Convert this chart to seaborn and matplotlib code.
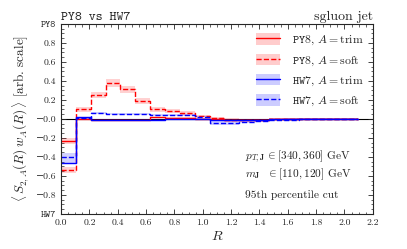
import numpy as np
import pandas as pd
import matplotlib
matplotlib.use("Agg")
import matplotlib.pyplot as plt
import seaborn as sns
from matplotlib.patches import Patch
from matplotlib.lines import Line2D

# bin edges: 20 bins of width 2.2/21
bin_width = 2.2 / 21
n_bins = 20

py8_trim = [-0.23, 0.00, -0.01, -0.01, -0.01, -0.01, 0.015, 0.01, 0.01, 0.00,
            -0.005, -0.01, -0.01, -0.01, 0.0, 0.0, 0.0, 0.0, 0.0, 0.0]
py8_trim_err = [0.03, 0.015, 0.01, 0.01, 0.01, 0.01, 0.01, 0.01, 0.01, 0.01,
                0.01, 0.01, 0.01, 0.01, 0.01, 0.005, 0.005, 0.005, 0.005, 0.005]
py8_soft = [-0.54, 0.10, 0.25, 0.38, 0.31, 0.19, 0.10, 0.08, 0.06, 0.03,
            0.01, -0.01, -0.01, -0.01, 0.0, 0.0, 0.0, 0.0, 0.0, 0.0]
py8_soft_err = [0.03, 0.03, 0.03, 0.045, 0.035, 0.03, 0.03, 0.02, 0.02, 0.015,
                0.015, 0.015, 0.01, 0.01, 0.01, 0.005, 0.005, 0.005, 0.005, 0.005]
hw7_trim = [-0.46, 0.015, -0.01, -0.01, -0.01, -0.01, -0.01, 0.0, 0.0, 0.0,
            -0.01, -0.01, -0.01, -0.01, -0.005, 0.0, 0.0, 0.0, 0.0, 0.0]
hw7_trim_err = [0.02, 0.01, 0.008, 0.008, 0.008, 0.008, 0.008, 0.008, 0.008, 0.008,
                0.008, 0.008, 0.008, 0.008, 0.005, 0.005, 0.005, 0.005, 0.005, 0.005]
hw7_soft = [-0.40, 0.01, 0.065, 0.05, 0.05, 0.05, 0.045, 0.045, 0.04, 0.025,
            -0.045, -0.04, -0.03, -0.02, -0.01, -0.01, 0.0, 0.0, 0.0, 0.0]
hw7_soft_err = [0.04, 0.01, 0.01, 0.01, 0.01, 0.01, 0.01, 0.01, 0.01, 0.01,
                0.02, 0.02, 0.015, 0.01, 0.01, 0.01, 0.005, 0.005, 0.005, 0.005]

series = [
    ("PY8", "trim", py8_trim, py8_trim_err, "#ff0000", "-"),
    ("PY8", "soft", py8_soft, py8_soft_err, "#ff0000", "--"),
    ("HW7", "trim", hw7_trim, hw7_trim_err, "#0000ff", "-"),
    ("HW7", "soft", hw7_soft, hw7_soft_err, "#0000ff", "--"),
]

sns.set_style("ticks")
plt.rcParams["font.family"] = ["cmr10", "DejaVu Serif"]
plt.rcParams["mathtext.fontset"] = "cm"
plt.rcParams["axes.formatter.use_mathtext"] = True
plt.rcParams["axes.unicode_minus"] = True

fig = plt.figure(figsize=(4.07, 2.49), dpi=100)
ax = fig.add_axes([0.150, 0.141, 0.766, 0.763])

edges = np.arange(n_bins + 1) * bin_width
handles = []
labels = []
for gen, alg, vals, errs, col, ls in series:
    v = np.append(vals, vals[-1])
    e = np.append(errs, errs[-1])
    df = pd.DataFrame({"R": edges, "val": v})
    ax.fill_between(edges, v - e, v + e, step="post", color=col, alpha=0.18, lw=0)
    sns.lineplot(data=df, x="R", y="val", ax=ax, color=col, linestyle=ls,
                 drawstyle="steps-post", lw=1.0, legend=False)
    handles.append((Patch(facecolor=col, alpha=0.2, lw=0),
                    Line2D([], [], color=col, ls=ls, lw=1.0)))
    labels.append(r"$\mathtt{%s}$, $A = \mathrm{%s}$" % (gen, alg))

ax.axhline(0, color="black", lw=0.8, zorder=0)

ax.set_xlim(0, 2.2)
ax.set_ylim(-1.0, 1.0)
ax.set_xticks(np.arange(0, 2.21, 0.2))
ax.set_xticklabels(["%.1f" % t for t in np.arange(0, 2.21, 0.2)])
yt = np.round(np.arange(-1.0, 1.01, 0.2), 1)
ax.set_yticks(yt)
ylabs = []
for t in yt:
    if t == 1.0:
        ylabs.append("PY8")
    elif t == -1.0:
        ylabs.append("HW7")
    else:
        ylabs.append(("%.1f" % t).replace("-", "\u2212"))
ax.set_yticklabels(ylabs)
for lab in ax.get_yticklabels():
    if lab.get_text() in ("PY8", "HW7"):
        lab.set_family("cmtt10")
        lab.set_fontsize(6)
ax.minorticks_on()
ax.xaxis.set_minor_locator(matplotlib.ticker.AutoMinorLocator(4))
ax.yaxis.set_minor_locator(matplotlib.ticker.AutoMinorLocator(4))
ax.tick_params(which="both", direction="in", top=True, right=True, labelsize=7)
ax.tick_params(which="major", length=3.5, width=0.6)
ax.tick_params(which="minor", length=1.8, width=0.5)
for s in ax.spines.values():
    s.set_linewidth(0.8)

ax.set_xlabel(r"$R$", fontsize=10, labelpad=2)
ax.set_ylabel(r"$\langle\, S_{2,A}(R)\, w_A(R)\,\rangle$ [arb. scale]", fontsize=9.5, labelpad=3)
ax.set_title("PY8 vs HW7", loc="left", fontsize=9.5, family="cmtt10", pad=3)
ax.set_title("sgluon jet", loc="right", fontsize=10, pad=3)

ax.legend(handles, labels, loc="upper right", frameon=False, fontsize=8.5,
          handlelength=2.0, handleheight=1.1, handletextpad=1.0,
          labelspacing=0.55, borderaxespad=0.4)

ax.text(0.59, 0.285, r"$p_{T,\mathbf{J}}\, \in [340, 360]$ GeV", transform=ax.transAxes, fontsize=8.2)
ax.text(0.59, 0.195, r"$m_{\mathbf{J}}\ \ \in [110, 120]$ GeV", transform=ax.transAxes, fontsize=8.2)
ax.text(0.59, 0.085, "95th percentile cut", transform=ax.transAxes, fontsize=8.2)

fig.savefig("out.png", dpi=100)
